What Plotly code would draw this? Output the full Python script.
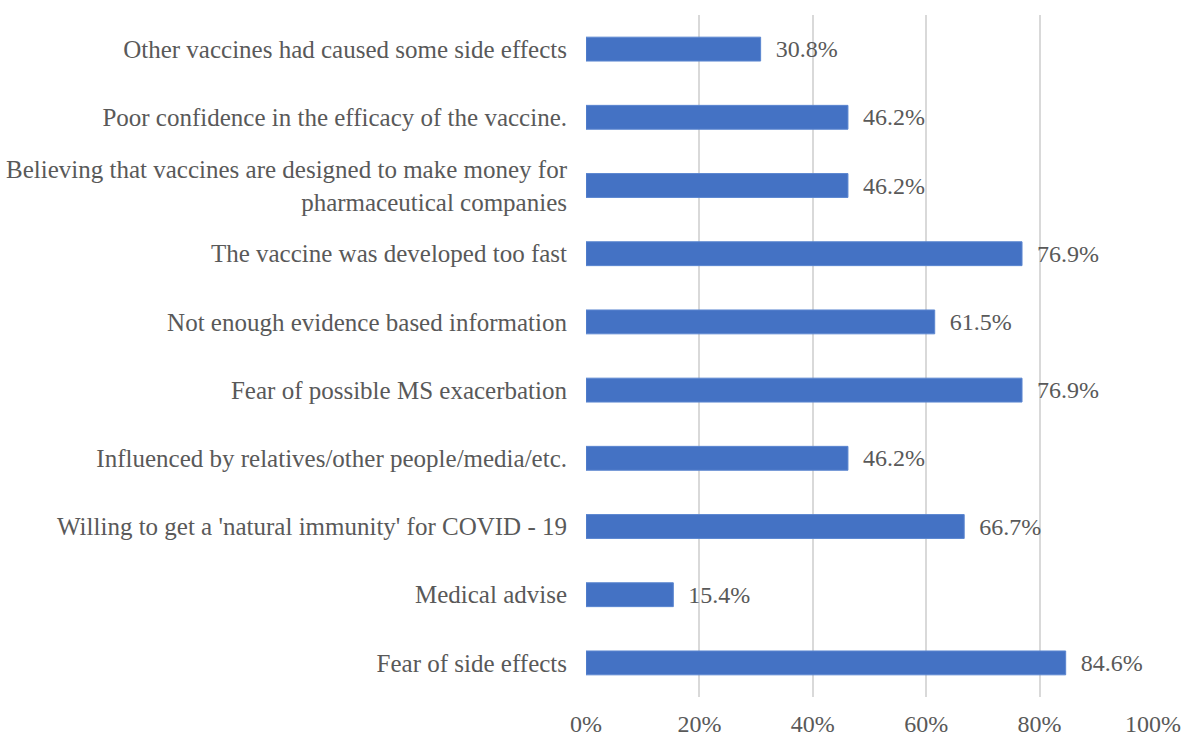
import plotly.graph_objects as go

categories = [
    "Other vaccines had caused some side effects",
    "Poor confidence in the efficacy of the vaccine.",
    "Believing that vaccines are designed to make money for<br>pharmaceutical companies",
    "The vaccine was developed too fast",
    "Not enough evidence based information",
    "Fear of possible MS exacerbation",
    "Influenced by relatives/other people/media/etc.",
    "Willing to get a 'natural immunity' for COVID - 19",
    "Medical advise",
    "Fear of side effects",
]
values = [30.8, 46.2, 46.2, 76.9, 61.5, 76.9, 46.2, 66.7, 15.4, 84.6]
tick_vals = [0, 20, 40, 60, 80, 100]
tick_text = ["0%", "20%", "40%", "60%", "80%", "100%"]

FONT = "Liberation Serif"
GRAY = "#595959"

fig = go.Figure(
    go.Bar(
        x=values,
        y=categories,
        orientation="h",
        width=0.35,
        marker=dict(color="#4472C4", line=dict(color="#5B86D0", width=1)),
        text=[f"\u00a0\u00a0{v:.1f}%" for v in values],
        textposition="outside",
        textfont=dict(family=FONT, size=24, color=GRAY),
        constraintext="none",
        cliponaxis=False,
    )
)

fig.update_layout(
    width=1182,
    height=740,
    margin=dict(l=586, r=29, t=15, b=43, autoexpand=False),
    paper_bgcolor="white",
    plot_bgcolor="white",
    showlegend=False,
    font=dict(family=FONT, size=24, color=GRAY),
    xaxis=dict(
        range=[0, 100],
        tickvals=tick_vals,
        ticktext=tick_text,
        showgrid=True,
        gridcolor="#D9D9D9",
        gridwidth=2,
        zeroline=False,
        showline=False,
        ticks="",
        automargin=False,
        ticklabelstandoff=10,
        tickfont=dict(family=FONT, size=24, color=GRAY),
    ),
    yaxis=dict(
        autorange="reversed",
        showgrid=False,
        zeroline=False,
        showline=False,
        ticks="",
        automargin=False,
        ticklabelstandoff=18,
        tickfont=dict(family=FONT, size=25, color=GRAY),
    ),
)

fig.write_html("out.html")
